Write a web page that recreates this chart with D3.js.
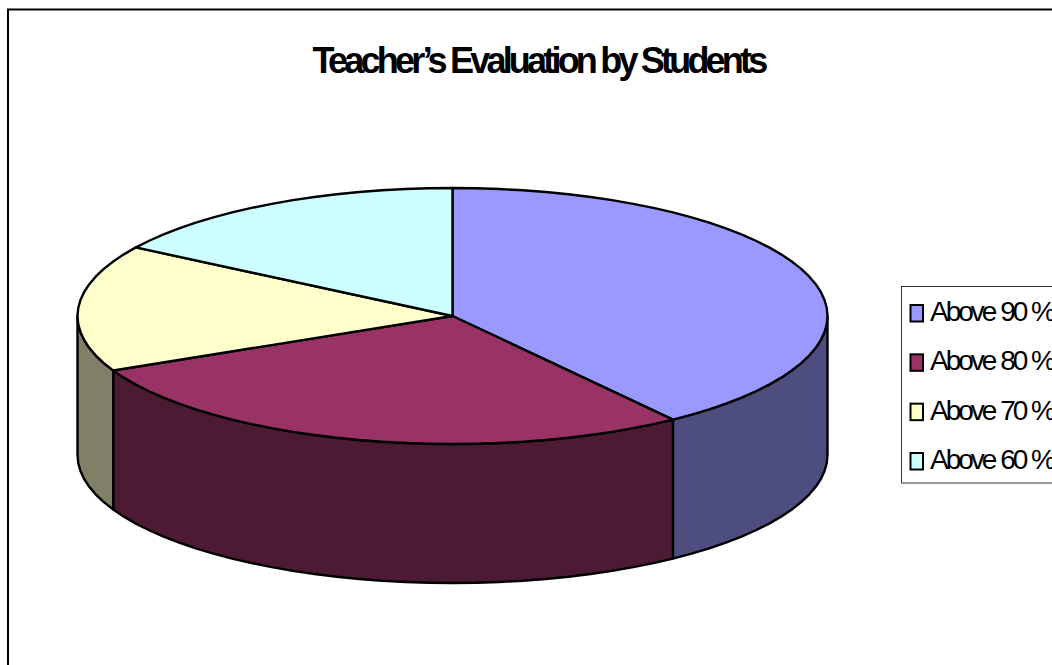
<!DOCTYPE html>
<html>
<head>
<meta charset="utf-8">
<script src="https://d3js.org/d3.v7.min.js"></script>
<style>
html,body{margin:0;padding:0;background:#fff;overflow:hidden}
svg{display:block}
text{font-family:"Liberation Sans",Arial,sans-serif;fill:#000}
</style>
</head>
<body>
<svg id="c" width="1052" height="665"></svg>
<script>
const categories = ["Above 90 %","Above 80 %","Above 70 %","Above 60 %"];
const values = [40,28,16,16];
const topColors = ["#9999FF","#993366","#FFFFCC","#CCFFFF"];
const sideColors = ["#4D4D80","#4D1A33","#808066","#668080"];
const titleText = "Teacher\u2019s Evaluation by Students";

const svg = d3.select("#c");
const cx = 452.5, cy = 316, rx = 375, ry = 128, depth = 139;
const stepAngle = 3.6 * Math.PI / 180;

svg.append("rect").attr("x",8).attr("y",9.5).attr("width",1100).attr("height",720)
  .attr("fill","#fff").attr("stroke","#000").attr("stroke-width",2);

svg.append("text").attr("x",538.5).attr("y",72.5).attr("text-anchor","middle")
  .attr("font-size",36).attr("font-weight","bold").attr("letter-spacing",-3.8)
  .text(titleText);

const pie = d3.pie().sort(null)(values);
const pt = (a,dy=0)=>[cx+rx*Math.sin(a), cy-ry*Math.cos(a)+dy];
const arcAngles = (a0,a1)=>{
  const n=Math.max(1,Math.round((a1-a0)/stepAngle));
  return d3.range(n+1).map(i=>a0+(a1-a0)*i/n);
};
const line = d3.line();
const common = s=>s.attr("stroke","#000").attr("stroke-width",2.4).attr("stroke-linejoin","round");

const front0 = Math.PI/2, front1 = 3*Math.PI/2;
pie.forEach((d,i)=>{
  const a0=Math.max(d.startAngle,front0), a1=Math.min(d.endAngle,front1);
  if(a1<=a0) return;
  const as=arcAngles(a0,a1);
  const pts=[...as.map(a=>pt(a)),...as.slice().reverse().map(a=>pt(a,depth))];
  svg.append("path").attr("d",line(pts)+"Z").attr("fill",sideColors[i]).call(common);
});

pie.forEach((d,i)=>{
  const pts=[[cx,cy],...arcAngles(d.startAngle,d.endAngle).map(a=>pt(a))];
  svg.append("path").attr("d",line(pts)+"Z").attr("fill",topColors[i]).call(common);
});

const legend = svg.append("g");
legend.append("rect").attr("x",901.5).attr("y",286.5).attr("width",200).attr("height",196.5)
  .attr("fill","#fff").attr("stroke","#333").attr("stroke-width",1);
const rowY = d3.scalePoint().domain(categories).range([313,461]);
categories.forEach((c,i)=>{
  const y=rowY(c);
  legend.append("rect").attr("x",910.5).attr("y",y-8).attr("width",12.5).attr("height",16.5)
    .attr("fill",topColors[i]).attr("stroke","#000").attr("stroke-width",2);
  legend.append("text").attr("x",930).attr("y",y+8).attr("font-size",28)
    .attr("letter-spacing",-3).attr("word-spacing",1).text(c);
});
</script>
</body>
</html>
